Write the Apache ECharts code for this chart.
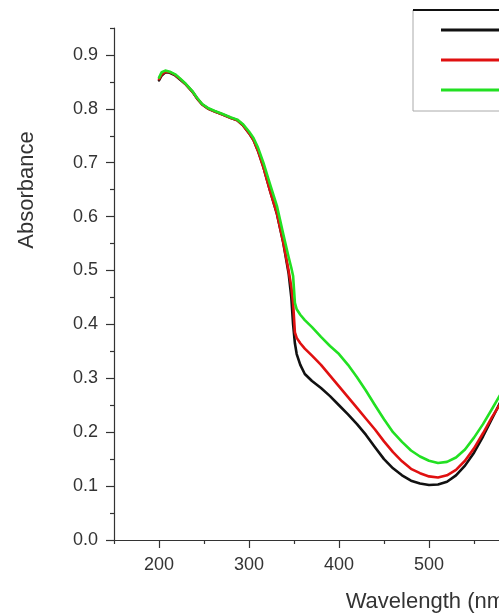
<!DOCTYPE html>
<html>
<head>
<meta charset="utf-8">
<script src="https://cdn.jsdelivr.net/npm/echarts@6/dist/echarts.min.js"></script>
<style>
html, body { margin: 0; padding: 0; width: 499px; height: 615px; overflow: hidden; background: #fff; }
#chart { width: 760px; height: 615px; }
</style>
</head>
<body>
<div id="chart"></div>
<script>
// Wavelength (nm) sample points
const wavelength = [200,203,207,212,218,223,230,237,242,248,255,262,270,280,287,293,300,305,310,316,323,331,338,344,347,349,351,353,357,362,370,380,390,400,410,420,430,440,450,460,470,480,490,500,510,520,530,540,550,560,570,580];

const seriesNames = ['a', 'b', 'c'];

const absBlack = [0.853,0.862,0.868,0.867,0.862,0.855,0.845,0.832,0.820,0.808,0.800,0.795,0.790,0.783,0.779,0.770,0.755,0.742,0.722,0.692,0.650,0.605,0.552,0.495,0.450,0.400,0.365,0.345,0.325,0.308,0.295,0.282,0.267,0.250,0.233,0.215,0.195,0.172,0.150,0.133,0.120,0.110,0.105,0.102,0.103,0.108,0.120,0.138,0.162,0.192,0.225,0.258];

const absRed = [0.855,0.864,0.869,0.868,0.863,0.856,0.845,0.832,0.820,0.808,0.800,0.795,0.790,0.783,0.779,0.770,0.755,0.742,0.722,0.692,0.650,0.606,0.553,0.500,0.470,0.440,0.385,0.375,0.365,0.355,0.342,0.325,0.305,0.285,0.265,0.245,0.225,0.205,0.183,0.163,0.146,0.132,0.124,0.118,0.116,0.120,0.130,0.147,0.170,0.198,0.228,0.255];

const absGreen = [0.858,0.868,0.871,0.869,0.864,0.857,0.846,0.833,0.821,0.809,0.801,0.796,0.791,0.784,0.780,0.772,0.758,0.746,0.728,0.700,0.662,0.620,0.568,0.525,0.505,0.490,0.440,0.428,0.418,0.408,0.395,0.377,0.360,0.345,0.325,0.302,0.277,0.250,0.224,0.200,0.182,0.166,0.155,0.147,0.143,0.145,0.153,0.168,0.190,0.215,0.243,0.272];

// Tick values
const xMajorTicks = [200,300,400,500,600,700,800];
const xMinorTicks = [150,250,350,450,550,650,750,850];
const yMajorTicks = [0,0.1,0.2,0.3,0.4,0.5,0.6,0.7,0.8,0.9];
const yMinorTicks = [0.05,0.15,0.25,0.35,0.45,0.55,0.65,0.75,0.85,0.95];

const FONT = 'Liberation Sans, Arial, sans-serif';
const pairs = (ys) => wavelength.map((x, i) => [x, ys[i]]);

const chart = echarts.init(document.getElementById('chart'), null, { renderer: 'canvas' });
const lineSeries = (name, ys, color) => ({
  name, type: 'line', data: pairs(ys), showSymbol: false, color,
  lineStyle: { width: 2.6, join: 'round', cap: 'round' }
});
chart.setOption({
  animation: false,
  backgroundColor: '#ffffff',
  grid: { left: 114, top: 28, bottom: 75, right: 16, containLabel: false, outerBoundsMode: 'none' },
  legend: {
    orient: 'vertical',
    left: 413, top: 10,
    data: seriesNames,
    icon: 'rect',
    itemWidth: 70, itemHeight: 3, itemGap: 12,
    padding: [11, 20, 12, 28],
    borderColor: '#aaa', borderWidth: 1,
    textStyle: { fontSize: 18, fontFamily: FONT, color: '#222' }
  },
  xAxis: [{
    type: 'value', min: 150, max: 850, position: 'bottom',
    name: 'Wavelength (nm)', nameLocation: 'middle', nameGap: 51,
    nameTextStyle: { fontSize: 22, fontFamily: FONT, color: '#333' },
    axisLine: { show: true, lineStyle: { color: '#333', width: 1.2 } },
    axisTick: { show: true, customValues: xMajorTicks, length: 8, lineStyle: { color: '#333', width: 1.2 } },
    axisLabel: { show: true, customValues: xMajorTicks, fontSize: 18, fontFamily: FONT, color: '#333', margin: 16 },
    splitLine: { show: false }
  }, {
    type: 'value', min: 150, max: 850, position: 'bottom', gridIndex: 0,
    axisLine: { show: false },
    axisTick: { show: true, customValues: xMinorTicks, length: 4, lineStyle: { color: '#333', width: 1.2 } },
    axisLabel: { show: false },
    splitLine: { show: false }
  }],
  yAxis: [{
    type: 'value', min: 0, max: 0.95, position: 'left',
    axisLine: { show: true, lineStyle: { color: '#333', width: 1.2 } },
    axisTick: { show: true, customValues: yMajorTicks, length: 8, lineStyle: { color: '#333', width: 1.2 } },
    axisLabel: { show: true, customValues: yMajorTicks, fontSize: 18, fontFamily: FONT, color: '#333', margin: 16,
      formatter: (v) => v.toFixed(1) },
    splitLine: { show: false }
  }, {
    type: 'value', min: 0, max: 0.95, position: 'left', gridIndex: 0,
    axisLine: { show: false },
    axisTick: { show: true, customValues: yMinorTicks, length: 4, lineStyle: { color: '#333', width: 1.2 } },
    axisLabel: { show: false },
    splitLine: { show: false }
  }],
  graphic: [{
    type: 'text', x: 27, y: 190, rotation: Math.PI / 2,
    style: { text: 'Absorbance', fontSize: 22, fontFamily: FONT, fill: '#333', align: 'center', verticalAlign: 'middle' }
  }, {
    type: 'line', shape: { x1: 413, y1: 10, x2: 760, y2: 10 },
    style: { stroke: '#111', lineWidth: 2 }, z: 10
  }],
  series: [
    lineSeries(seriesNames[0], absBlack, '#111111'),
    lineSeries(seriesNames[1], absRed, '#e01010'),
    lineSeries(seriesNames[2], absGreen, '#22e022')
  ]
});
</script>
</body>
</html>
